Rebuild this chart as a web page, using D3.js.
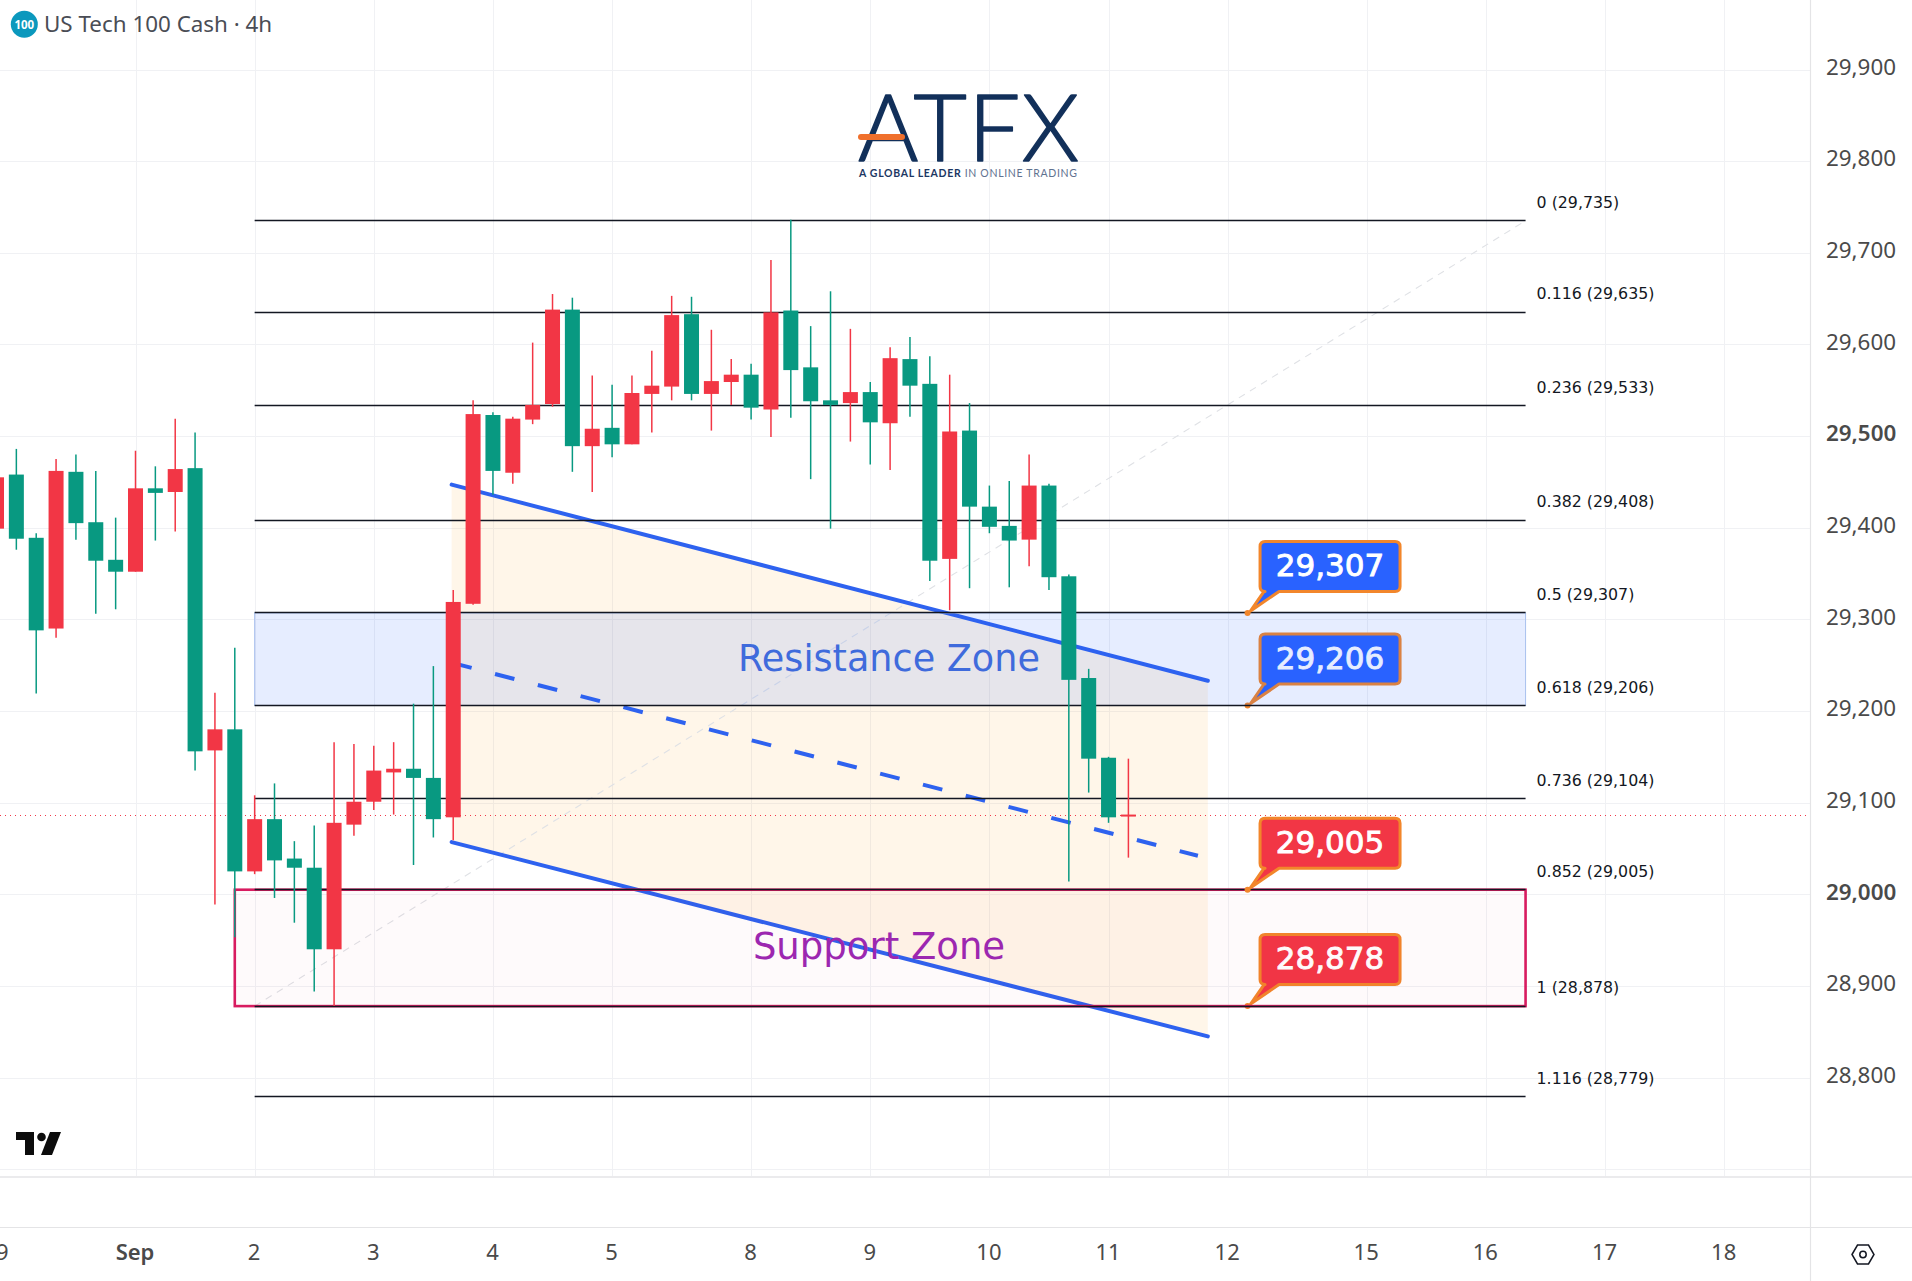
<!DOCTYPE html>
<html><head><meta charset="utf-8">
<script src="https://cdn.jsdelivr.net/npm/d3@7/dist/d3.min.js"></script>
<style>html,body{margin:0;padding:0;background:#fff;overflow:hidden}svg{display:block}</style>
</head><body><div id="chart"></div>
<script>
// ---- data ----
const firstBar = -7;
const opens  = [29399,29458,29389,29290,29461,29406,29365,29352,29443,29439,29465,29157,29180,29025,29082,29039,29029,28940,29076,29101,29133,29137,29127,29084,29317,29523,29460,29518,29535,29638,29489,29509,29491,29546,29554,29633,29546,29559,29567,29529,29637,29575,29539,29536,29548,29514,29584,29557,29366,29506,29423,29402,29387,29446,29347,29236,29149,29086];
const highs  = [29463,29486,29394,29475,29480,29462,29411,29484,29467,29519,29504,29220,29269,29108,29121,29058,29075,29166,29164,29162,29166,29208,29249,29332,29539,29526,29521,29602,29655,29651,29566,29556,29566,29593,29653,29652,29616,29584,29579,29692,29736,29620,29658,29617,29559,29597,29608,29587,29567,29536,29446,29451,29480,29448,29349,29246,29150,29148];
const lows   = [29378,29376,29219,29280,29387,29306,29311,29352,29386,29396,29135,28989,28953,29022,28996,28969,28894,28878,29064,29092,29087,29032,29062,29059,29316,29436,29448,29513,29532,29461,29439,29477,29491,29504,29539,29539,29506,29534,29518,29499,29520,29453,29399,29494,29469,29463,29521,29342,29310,29334,29394,29335,29358,29332,29014,29111,29078,29040];
const closes = [29455,29388,29288,29462,29405,29364,29352,29443,29438,29464,29156,29180,29025,29082,29037,29029,28940,29078,29101,29135,29137,29127,29082,29319,29524,29462,29519,29534,29638,29489,29508,29491,29547,29555,29632,29546,29560,29567,29531,29635,29572,29538,29534,29548,29515,29585,29555,29364,29505,29423,29401,29386,29446,29346,29234,29148,29084,29087];
const priceTicks = [28800,28900,29000,29100,29200,29300,29400,29500,29600,29700,29800,29900];
const boldPrices = [29000,29500];
const timeBars = [-7,0,6,12,18,24,31,37,43,49,55,62,68,74,80];
const timeLabels = ["29","Sep","2","3","4","5","8","9","10","11","12","15","16","17","18"];
const fibRatios = ["0","0.116","0.236","0.382","0.5","0.618","0.736","0.852","1","1.116"];
const fibPrices = [29735,29635,29533,29408,29307,29206,29104,29005,28878,28779];
const fibStartBar = 6, fibEndBar = 70, supportStartBar = 5;
const channelBars = [15.92,54];
const channelTop = [29447,29233];
const channelBottom = [29057,28845];
const channelMidBars = [15.95,53.5];
const channelMid = [29252.5,29042];
const calloutBar = 56;
const calloutPrices = [29307,29206,29005,28878];
const calloutKinds = ["r","r","s","s"];

// ---- scales ----
const W = 1912, H = 1281, axisX = 1810, paneB = 1177, timeTop = 1227;
const x = d3.scaleLinear().domain([0,62]).range([135.5,1366.7]);
const y = d3.scaleLinear().domain([29000,29900]).range([894.3,69.5]);
const UP = "#f23645", DOWN = "#089981";
const svg = d3.select("#chart").append("svg").attr("width",W).attr("height",H);
const sans = "'Noto Sans',sans-serif", dj = "'DejaVu Sans',sans-serif";
svg.append("rect").attr("width",W).attr("height",H).attr("fill","#fff");

// ---- grid ----
const grid = svg.append("g").attr("stroke","#f0f1f4").attr("stroke-width",1);
grid.selectAll(".v").data(timeBars.slice(1)).join("line")
  .attr("x1",d=>Math.round(x(d))+.5).attr("x2",d=>Math.round(x(d))+.5).attr("y1",0).attr("y2",paneB);
grid.selectAll(".h").data(priceTicks.concat([28700])).join("line")
  .attr("x1",0).attr("x2",axisX).attr("y1",d=>Math.round(y(d))+.5).attr("y2",d=>Math.round(y(d))+.5);

// ---- channel ----
const chArea = d3.area().x((d,i)=>x(channelBars[i])).y0((d,i)=>y(channelBottom[i])).y1(d=>y(d));
svg.append("path").attr("d",chArea(channelTop)).attr("fill","rgba(255,152,0,0.085)");

// ---- fib diagonal ----
svg.append("line").attr("x1",x(fibStartBar)).attr("y1",y(fibPrices[8])).attr("x2",x(fibEndBar)).attr("y2",y(fibPrices[0]))
  .attr("stroke","#dfe1e5").attr("stroke-width",1.1).attr("stroke-dasharray","7 6");

// ---- channel lines ----
const lineG = svg.append("g").attr("fill","none").attr("stroke","#2e62ef").attr("stroke-width",4).attr("stroke-linecap","round");
const ln = d3.line();
lineG.append("path").attr("d",ln(channelBars.map((b,i)=>[x(b),y(channelTop[i])])));
lineG.append("path").attr("d",ln(channelBars.map((b,i)=>[x(b),y(channelBottom[i])])));
lineG.append("path").attr("stroke-dasharray","20 24.2").attr("stroke-linecap","butt")
  .attr("d",ln(channelMidBars.map((b,i)=>[x(b),y(channelMid[i])])));

// ---- callouts ----
function callout(g, price, kind){
  const tx = x(calloutBar), ty = y(price);
  const l=tx+12.5,r=tx+152.5,t=ty-71.5,b=ty-21.5,c=5;
  const fill = kind==="r" ? "#2962ff" : "#f23645";
  const p = `M${l+c},${t}H${r-c}Q${r},${t} ${r},${t+c}V${b-c}Q${r},${b} ${r-c},${b}H${l+19}L${tx+3},${ty-2}L${l+4},${b}H${l+c}Q${l},${b} ${l},${b-c}V${t+c}Q${l},${t} ${l+c},${t}Z`;
  g.append("path").attr("d",p).attr("fill",fill).attr("stroke","#f2862b").attr("stroke-width",3).attr("stroke-linejoin","round");
  g.append("circle").attr("cx",tx).attr("cy",ty).attr("r",3).attr("fill","#f2862b");
  g.append("text").attr("x",(l+r)/2).attr("y",(t+b)/2+9.5).attr("text-anchor","middle")
   .attr("font-family",dj).attr("font-size",31).attr("fill","#fff").attr("stroke","#fff").attr("stroke-width",.9)
   .text(d3.format(",")(price));
}
const underZones = svg.append("g");
callout(underZones,calloutPrices[1],calloutKinds[1]);
callout(underZones,calloutPrices[3],calloutKinds[3]);

// ---- zones ----
svg.append("rect").attr("x",x(fibStartBar)).attr("y",y(fibPrices[4])).attr("width",x(fibEndBar)-x(fibStartBar)).attr("height",y(fibPrices[5])-y(fibPrices[4]))
  .attr("fill","rgba(41,98,255,0.117)").attr("stroke","#a9c1ee").attr("stroke-width",1);
svg.append("rect").attr("x",x(supportStartBar)).attr("y",y(fibPrices[7])).attr("width",x(fibEndBar)-x(supportStartBar)).attr("height",y(fibPrices[8])-y(fibPrices[7]))
  .attr("fill","rgba(233,30,99,0.025)").attr("stroke","#d81b60").attr("stroke-width",2.6);
svg.append("text").attr("x",889).attr("y",y((fibPrices[4]+fibPrices[5])/2)+12).attr("text-anchor","middle")
  .attr("font-family",dj).attr("font-size",36.6).attr("fill","#3f6bdc").text("Resistance Zone");
svg.append("text").attr("x",879).attr("y",y((fibPrices[7]+fibPrices[8])/2)+11.5).attr("text-anchor","middle")
  .attr("font-family",dj).attr("font-size",37).attr("fill","#9c27b0").text("Support Zone");

// ---- fib levels ----
const fibG = svg.append("g");
const snap = v => Math.round(v-.5)+.5;
fibG.selectAll("line").data(fibPrices).join("line")
  .attr("x1",x(fibStartBar)).attr("x2",x(fibEndBar)).attr("y1",d=>snap(y(d))).attr("y2",d=>snap(y(d)))
  .attr("stroke","#131722").attr("stroke-width",1.3);
fibG.selectAll("text").data(fibPrices).join("text")
  .attr("x",x(fibEndBar)+11).attr("y",d=>y(d)-13)
  .attr("font-family",dj).attr("font-size",15.8).attr("fill","#131722")
  .text((d,i)=>`${fibRatios[i]} (${d3.format(",")(d)})`);

// ---- callouts above zones ----
const overZones = svg.append("g");
callout(overZones,calloutPrices[0],calloutKinds[0]);
callout(overZones,calloutPrices[2],calloutKinds[2]);

// ---- current price ----
const lastY = Math.round(y(closes[closes.length-1]))+.5;
svg.append("line").attr("x1",0).attr("x2",axisX).attr("y1",lastY).attr("y2",lastY)
  .attr("stroke","#f23645").attr("stroke-width",1).attr("stroke-dasharray","1 4");

// ---- candles ----
const bars = opens.map((o,i)=>({i:i+firstBar,o,h:highs[i],l:lows[i],c:closes[i]}));
const candle = svg.append("g").selectAll("g").data(bars).join("g");
candle.append("line").attr("x1",d=>x(d.i)).attr("x2",d=>x(d.i)).attr("y1",d=>y(d.h)).attr("y2",d=>y(d.l))
  .attr("stroke",d=>d.c>=d.o?UP:DOWN).attr("stroke-width",1.5);
candle.append("rect").attr("x",d=>x(d.i)-7.5).attr("width",15)
  .attr("y",d=>y(Math.max(d.o,d.c))).attr("height",d=>Math.max(2,Math.abs(y(d.o)-y(d.c))))
  .attr("fill",d=>d.c>=d.o?UP:DOWN);

// ---- axes ----
svg.append("rect").attr("x",axisX).attr("y",0).attr("width",W-axisX).attr("height",H).attr("fill","#fff");
svg.append("rect").attr("x",0).attr("y",paneB).attr("width",W).attr("height",H-paneB).attr("fill","#fff");
const yAxis = svg.append("g").attr("transform",`translate(${axisX},3.6)`)
  .call(d3.axisRight(y).tickValues(priceTicks).tickFormat(d3.format(",")).tickSize(0).tickPadding(16));
yAxis.select(".domain").remove();
yAxis.selectAll("text").attr("font-family",sans).attr("font-size",22.4).attr("fill","#4a4a4a").attr("dy","0.05em")
  .attr("font-weight",d=>boldPrices.includes(d)?600:400);
const xAxis = svg.append("g").attr("transform",`translate(-1,${timeTop+3.6})`)
  .call(d3.axisBottom(x).tickValues(timeBars).tickFormat((d,i)=>timeLabels[i]).tickSize(0).tickPadding(14));
xAxis.select(".domain").remove();
xAxis.selectAll("text").attr("font-family",sans).attr("font-size",22).attr("fill","#4a4a4a")
  .attr("font-weight",d=>d===0?600:400);
xAxis.attr("clip-path","url(#axclip)");
svg.append("clipPath").attr("id","axclip").append("rect").attr("x",0).attr("y",0).attr("width",axisX).attr("height",60);
svg.append("line").attr("x1",0).attr("x2",W).attr("y1",paneB).attr("y2",paneB).attr("stroke","#ebebed").attr("stroke-width",2);
svg.append("line").attr("x1",0).attr("x2",W).attr("y1",timeTop+.5).attr("y2",timeTop+.5).attr("stroke","#e4e4e6").attr("stroke-width",1.2);
svg.append("line").attr("x1",axisX+.5).attr("x2",axisX+.5).attr("y1",0).attr("y2",H).attr("stroke","#e4e4e6").attr("stroke-width",1.2);

// ---- settings icon ----
svg.append("path").attr("d","M1852,1254.5l5.5,-9.5h11l5.5,9.5l-5.5,9.5h-11Z").attr("fill","none").attr("stroke","#131722").attr("stroke-width",1.5);
svg.append("circle").attr("cx",1863).attr("cy",1254.5).attr("r",3.2).attr("fill","none").attr("stroke","#131722").attr("stroke-width",1.5);

// ---- legend ----
svg.append("circle").attr("cx",24.3).attr("cy",24.3).attr("r",13.5).attr("fill","#0b98bd");
svg.append("text").attr("x",24.3).attr("y",28.5).attr("text-anchor","middle").attr("font-family",sans).attr("font-weight",700).attr("font-size",11.5).attr("fill","#fff").text("100");
svg.append("text").attr("x",44).attr("y",32).attr("font-family",sans).attr("font-size",22.4).attr("fill","#4a4d55").text("US Tech 100 Cash · 4h");

// ---- TV mark ----
svg.append("path").attr("d","M16,1132H34V1155H25V1140H16Z").attr("fill","#0c0c0c");
svg.append("circle").attr("cx",41.5).attr("cy",1137).attr("r",4.3).attr("fill","#0c0c0c");
svg.append("path").attr("d","M50,1132H61L52,1155H41Z").attr("fill","#0c0c0c");

// ---- ATFX logo ----
svg.append("text").attr("x",858).attr("y",160.5).attr("font-family","Lato,sans-serif").attr("font-size",92).attr("font-weight",300)
  .attr("fill","#12305a").attr("stroke","#12305a").attr("stroke-width",1.6).attr("stroke-linejoin","round")
  .attr("textLength",221).attr("lengthAdjust","spacing").text("ATFX");
svg.append("line").attr("x1",861).attr("x2",902).attr("y1",137).attr("y2",137).attr("stroke","#f0702c").attr("stroke-width",6).attr("stroke-linecap","round");
const tag = svg.append("text").attr("x",859).attr("y",177).attr("font-family","Lato,sans-serif").attr("font-size",10.5)
  .attr("textLength",218).attr("lengthAdjust","spacing").attr("fill","#5f7290");
tag.append("tspan").attr("font-weight",700).attr("fill","#1c3763").text("A GLOBAL LEADER ");
tag.append("tspan").text("IN ONLINE TRADING");
</script></body></html>
